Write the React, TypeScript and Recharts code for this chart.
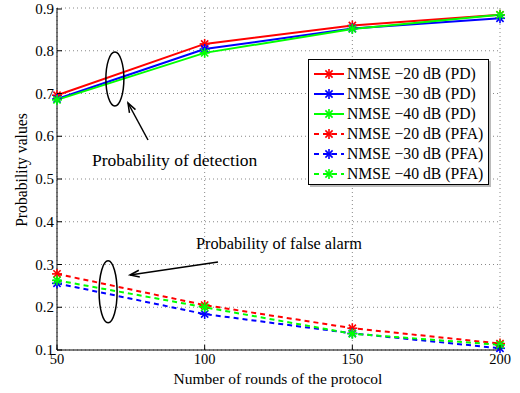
import { CartesianGrid, Line, LineChart, XAxis, YAxis } from "recharts";

const rounds = [50, 100, 150, 200];
const pd20 = [0.696, 0.816, 0.859, 0.884];
const pd30 = [0.687, 0.804, 0.852, 0.876];
const pd40 = [0.685, 0.795, 0.851, 0.884];
const pfa20 = [0.278, 0.205, 0.151, 0.115];
const pfa30 = [0.256, 0.184, 0.139, 0.104];
const pfa40 = [0.263, 0.2, 0.138, 0.112];
const xTicks = [50, 100, 150, 200];
const yTicks = [0.1, 0.2, 0.3, 0.4, 0.5, 0.6, 0.7, 0.8, 0.9];

const series = [
  { key: "pd20", name: "NMSE \u221220 dB (PD)", color: "#ff0000", dash: undefined, values: pd20 },
  { key: "pd30", name: "NMSE \u221230 dB (PD)", color: "#0000ff", dash: undefined, values: pd30 },
  { key: "pd40", name: "NMSE \u221240 dB (PD)", color: "#00ff00", dash: undefined, values: pd40 },
  { key: "pfa20", name: "NMSE \u221220 dB (PFA)", color: "#ff0000", dash: "5 4", values: pfa20 },
  { key: "pfa30", name: "NMSE \u221230 dB (PFA)", color: "#0000ff", dash: "5 4", values: pfa30 },
  { key: "pfa40", name: "NMSE \u221240 dB (PFA)", color: "#00ff00", dash: "5 4", values: pfa40 },
];

const data = rounds.map((r, i) => {
  let point: any = { round: r };
  series.forEach((s) => { point[s.key] = s.values[i]; });
  return point;
});

const font = "'Liberation Serif', 'Times New Roman', serif";

// plot box, used only for placing the annotations
const W = 520, H = 393;
const M = { top: 8, right: 20, bottom: 15, left: 8 };
const yAxisW = 49, xAxisH = 28;
const plotL = M.left + yAxisW, plotR = W - M.right;
const plotT = M.top, plotB = H - M.bottom - xAxisH;
const px = (v: number) => plotL + ((v - 50) / 150) * (plotR - plotL);
const py = (v: number) => plotT + ((0.9 - v) / 0.8) * (plotB - plotT);

const Star = (props: any) => {
  const { cx, cy, stroke } = props;
  if (cx == null || cy == null) return <g key={Math.random()} />;
  const r = 5, d = 3.6;
  return (
    <g key={`${props.dataKey}-${props.index}`} stroke={stroke} strokeWidth={1.6} strokeDasharray="none">
      <line x1={cx - r} y1={cy} x2={cx + r} y2={cy} />
      <line x1={cx} y1={cy - r} x2={cx} y2={cy + r} />
      <line x1={cx - d} y1={cy - d} x2={cx + d} y2={cy + d} />
      <line x1={cx - d} y1={cy + d} x2={cx + d} y2={cy - d} />
    </g>
  );
};

const BottomTick = (props: any) => {
  const { x, y, payload } = props;
  return (
    <g>
      <line x1={x} x2={x} y1={y} y2={y - 5} stroke="#000" />
      <text x={x} y={y + 14} textAnchor="middle" fontSize={14.5} fontFamily={font} fill="#000">{payload.value}</text>
    </g>
  );
};
const TopTick = (props: any) => {
  const { x, y } = props;
  return <line x1={x} x2={x} y1={y} y2={y + 5} stroke="#000" />;
};
const LeftTick = (props: any) => {
  const { x, y, payload } = props;
  return (
    <g>
      <line x1={x} x2={x + 5} y1={y} y2={y} stroke="#000" />
      <text x={x - 3} y={y + 5} textAnchor="end" fontSize={15} fontFamily={font} fill="#000">{payload.value.toFixed(1)}</text>
    </g>
  );
};
const RightTick = (props: any) => {
  const { x, y } = props;
  return <line x1={x} x2={x - 5} y1={y} y2={y} stroke="#000" />;
};

function LegendBox() {
  return (
    <div style={{ position: "absolute", left: 308, top: 59, width: 179, height: 124, background: "#fff", border: "1.5px solid #000", boxShadow: "2px 2px 0 #bbb", fontFamily: font, fontSize: 15.7 }}>
      {series.map((s, i) => (
        <div key={s.key} style={{ position: "absolute", left: 4, top: 4 + i * 20, height: 20, display: "flex", alignItems: "center", whiteSpace: "nowrap" }}>
          <svg width={32} height={20}>
            <line x1={1} x2={31} y1={10} y2={10} stroke={s.color} strokeWidth={2} strokeDasharray={s.dash} />
            <Star cx={16} cy={10} stroke={s.color} />
          </svg>
          <span style={{ marginLeft: 2 }}>{s.name}</span>
        </div>
      ))}
    </div>
  );
}

function Arrow({ x1, y1, x2, y2 }: { x1: number; y1: number; x2: number; y2: number }) {
  const a = Math.atan2(y2 - y1, x2 - x1);
  const L = 10, s = 0.35;
  const p1 = [x2 - L * Math.cos(a - s), y2 - L * Math.sin(a - s)];
  const p2 = [x2 - L * Math.cos(a + s), y2 - L * Math.sin(a + s)];
  return (
    <g stroke="#000" strokeWidth={1.5} fill="none">
      <line x1={x1} y1={y1} x2={x2} y2={y2} />
      <polyline points={`${p1[0]},${p1[1]} ${x2},${y2} ${p2[0]},${p2[1]}`} />
    </g>
  );
}

function Annotations() {
  return (
    <svg width={W} height={H} style={{ position: "absolute", left: 0, top: 0, pointerEvents: "none" }}>
      <ellipse cx={px(69.6)} cy={py(0.734)} rx={9} ry={27} fill="none" stroke="#000" strokeWidth={1.5} />
      <Arrow x1={148} y1={140} x2={128} y2={103} />
      <text x={92} y={166} fontSize={17.5} fontFamily={font}>Probability of detection</text>
      <ellipse cx={px(67.3)} cy={py(0.236)} rx={9} ry={31} fill="none" stroke="#000" strokeWidth={1.5} />
      <Arrow x1={218} y1={262} x2={130} y2={275} />
      <text x={196} y={249} fontSize={16.3} fontFamily={font}>Probability of false alarm</text>
      <text x={278} y={383.5} textAnchor="middle" fontSize={15.5} fontFamily={font}>Number of rounds of the protocol</text>
      <text x={0} y={0} transform={`translate(27, 170) rotate(-90)`} textAnchor="middle" fontSize={15.7} fontFamily={font}>Probability values</text>
    </svg>
  );
}

export default function App() {
  return (
    <div style={{ position: "absolute", left: 0, top: 0, width: W, height: H, background: "#fff" }}>
      <LineChart width={W} height={H} data={data} margin={M}>
        <CartesianGrid stroke="#888" strokeDasharray="1 3" />
        <XAxis dataKey="round" type="number" domain={[50, 200]} ticks={xTicks} height={xAxisH} tickSize={0} tickMargin={0} tick={<BottomTick />} axisLine={{ stroke: "#000" }} tickLine={false} />
        <XAxis xAxisId="top" orientation="top" type="number" domain={[50, 200]} ticks={xTicks} height={0} tickSize={0} tickMargin={0} tick={<TopTick />} axisLine={{ stroke: "#000" }} tickLine={false} />
        <YAxis type="number" domain={[0.1, 0.9]} ticks={yTicks} width={yAxisW} tickSize={0} tickMargin={0} tick={<LeftTick />} axisLine={{ stroke: "#000" }} tickLine={false} />
        <YAxis yAxisId="right" orientation="right" type="number" domain={[0.1, 0.9]} ticks={yTicks} width={0} tickSize={0} tickMargin={0} tick={<RightTick />} axisLine={{ stroke: "#000" }} tickLine={false} />
        {series.map((s) => (
          <Line key={s.key} dataKey={s.key} name={s.name} stroke={s.color} strokeWidth={2} strokeDasharray={s.dash} type="linear" dot={<Star />} isAnimationActive={false} />
        ))}
      </LineChart>
      <Annotations />
      <LegendBox />
    </div>
  );
}
